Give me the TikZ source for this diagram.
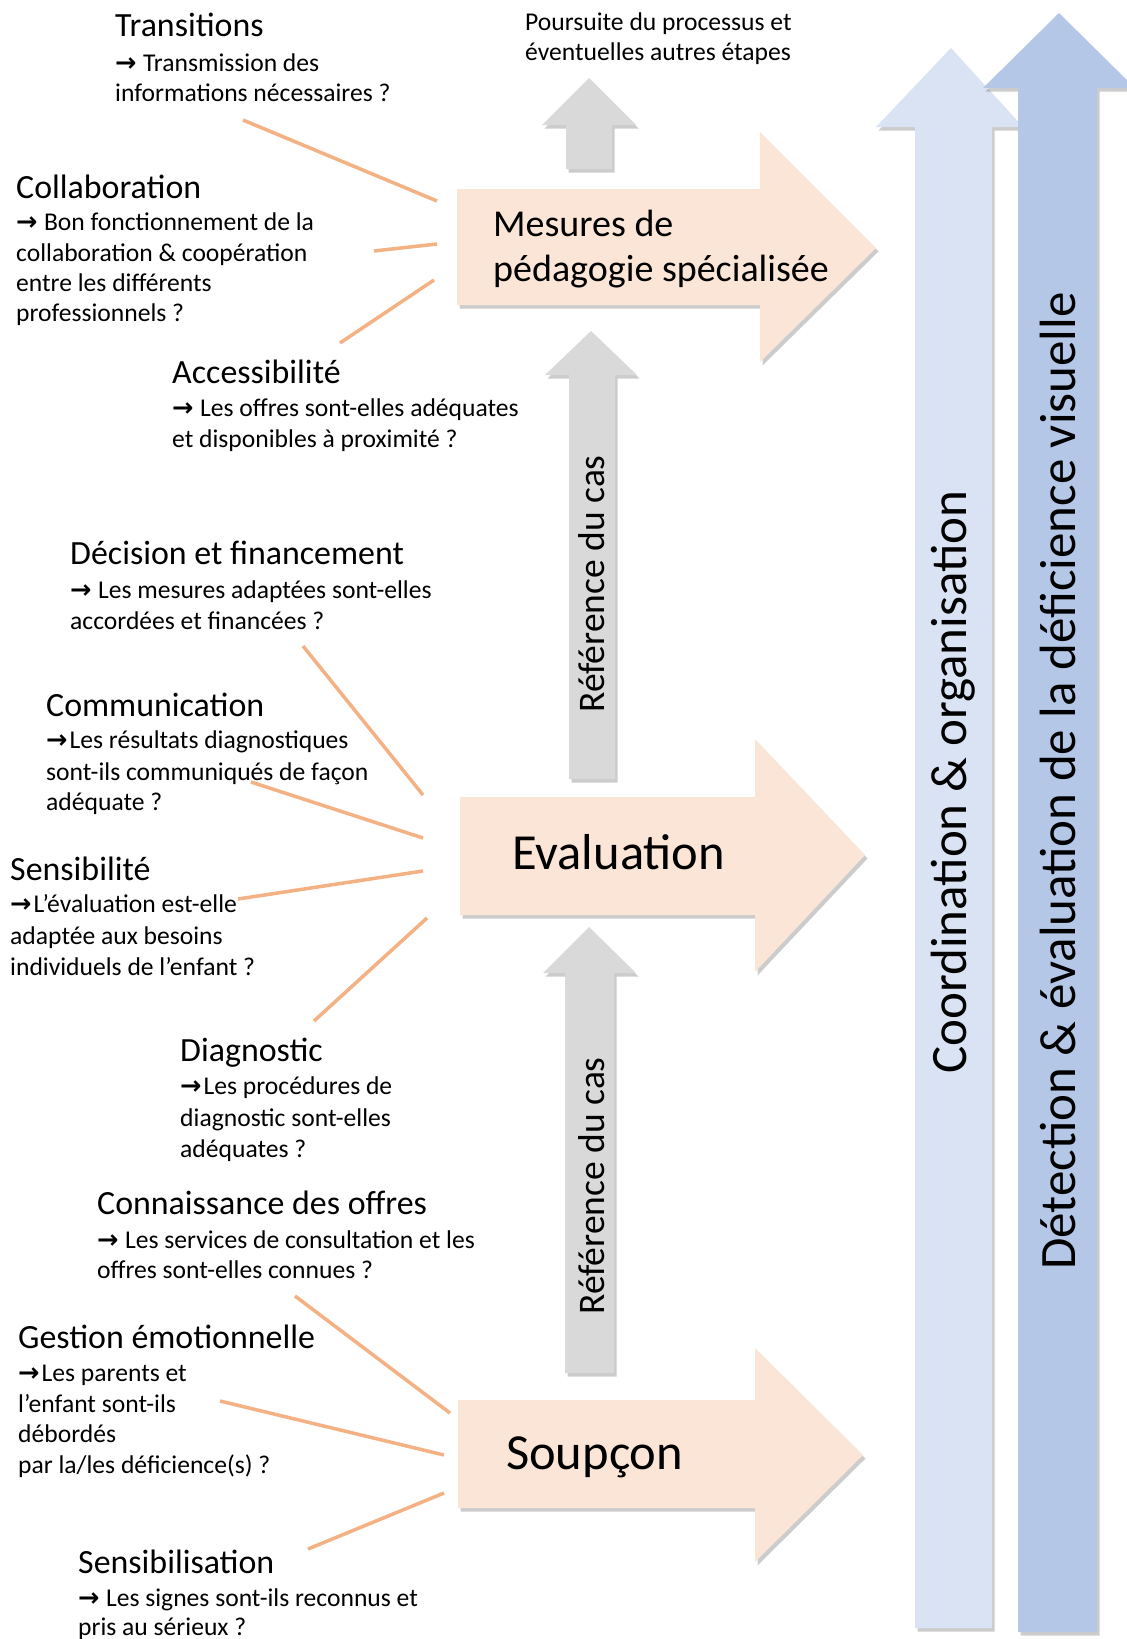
\documentclass[tikz,border=0pt]{standalone}
\usepackage{fontspec}
\setmainfont{Carlito}
\newfontfamily\arrowfont{DejaVu Sans}
\usetikzlibrary{shadows}
\definecolor{pinkf}{HTML}{FBE5D6}
\definecolor{grayf}{HTML}{D9D9D9}
\definecolor{lblue}{HTML}{DAE3F3}
\definecolor{dblue}{HTML}{B4C7E7}
\definecolor{orangel}{HTML}{F4B183}
\newcommand\rarr{{\arrowfont\bfseries\char"2192}\hspace{0.25em}}
\newcommand\rarrt{{\arrowfont\bfseries\char"2192}\hspace{0.08em}}
\tikzset{
  ttl/.style={anchor=base west, inner sep=0pt, font=\fontsize{33.9}{40}\selectfont},
  sub/.style={anchor=base west, inner sep=0pt, font=\fontsize{25.6}{30}\selectfont},
  bigtxt/.style={anchor=base west, inner sep=0pt, font=\fontsize{50.5}{60}\selectfont},
  midtxt/.style={anchor=base west, inner sep=0pt, font=\fontsize{38}{45}\selectfont},
  rottxt/.style={inner sep=0pt, rotate=90, font=\fontsize{51}{60}\selectfont},
  reftxt/.style={inner sep=0pt, rotate=90, font=\fontsize{37.5}{44}\selectfont},
  shad/.style={drop shadow={shadow xshift=2.5pt, shadow yshift=-3.5pt, fill=black, opacity=0.2}},
  pinkarrow/.style={fill=pinkf, shad},
  grayarrow/.style={fill=grayf, shad},
  link/.style={draw=orangel, line width=3.5pt},
}
\begin{document}
\begin{tikzpicture}[x=1pt,y=-1pt]
\useasboundingbox (0,0) rectangle (1127,1639);
\clip (0,0) rectangle (1127,1639);
\fill[white] (0,0) rectangle (1127,1639);

% vertical blue arrows
\path[fill=lblue, shad] (915,1628) -- (915,127) -- (876,127) -- (951,48) -- (1023,127) -- (992,127) -- (992,1628) -- cycle;
\path[fill=dblue, shad] (1018,1632) -- (1018,88) -- (983,88) -- (1059,13) -- (1135,88) -- (1097,88) -- (1097,1632) -- cycle;
\node[rottxt] (coord) at (953,782) {Coordination \& organisation};
\node[rottxt] (detect) at (1058,781) {Détection \& évaluation de la déficience visuelle};

% gray up arrows
\path[grayarrow] (566,169) -- (566,125) -- (542,125) -- (589,78) -- (636,125) -- (612,125) -- (612,169) -- cycle;
\path[grayarrow] (569,779) -- (569,375) -- (545,375) -- (591,331) -- (637,375) -- (615,375) -- (615,779) -- cycle;
\path[grayarrow] (565,1373) -- (565,973) -- (543,973) -- (589,927) -- (636,973) -- (614,973) -- (614,1373) -- cycle;
\node[reftxt] (ref1) at (592,584) {Référence du cas};
\node[reftxt] (ref2) at (592,1186) {Référence du cas};

% pink right arrows
\path[pinkarrow] (457,189) -- (760,189) -- (760,132) -- (876,248) -- (760,362) -- (760,305) -- (457,305) -- cycle;
\path[pinkarrow] (460,797) -- (755,797) -- (755,739) -- (865,855) -- (755,972) -- (755,915) -- (460,915) -- cycle;
\path[pinkarrow] (458,1400) -- (755,1400) -- (755,1348) -- (863,1455) -- (755,1562) -- (755,1508) -- (458,1508) -- cycle;
\node[midtxt] (mes1) at (493,236) {Mesures de};
\node[midtxt] (mes2) at (493,281) {pédagogie spécialisée};
\node[bigtxt] (eval) at (512,869) {Evaluation};
\node[bigtxt] (soup) at (506,1469) {Soupçon};

% top text
\node[sub] (pour1) at (525,30) {Poursuite du processus et};
\node[sub] (pour2) at (525,60) {éventuelles autres étapes};

% Mesures blocks
\node[ttl] (tra) at (115,36) {Transitions};
\node[sub] (tra1) at (115,71) {\rarr Transmission des};
\node[sub] (tra2) at (115,101) {informations nécessaires ?};

\node[ttl] (col) at (16,198) {Collaboration};
\node[sub] (col1) at (16,230) {\rarr Bon fonctionnement de la};
\node[sub] (col2) at (16,261) {collaboration \& coopération};
\node[sub] (col3) at (16,291) {entre les différents};
\node[sub] (col4) at (16,321) {professionnels ?};

\node[ttl] (acc) at (172,383) {Accessibilité};
\node[sub] (acc1) at (172,416) {\rarr Les offres sont-elles adéquates};
\node[sub] (acc2) at (172,447) {et disponibles à proximité ?};

% Evaluation blocks
\node[ttl] (dec) at (70,564) {Décision et financement};
\node[sub] (dec1) at (70,598) {\rarr Les mesures adaptées sont-elles};
\node[sub] (dec2) at (70,629) {accordées et financées ?};

\node[ttl] (com) at (46,716) {Communication};
\node[sub] (com1) at (46,748) {\rarrt Les résultats diagnostiques};
\node[sub] (com2) at (46,780) {sont-ils communiqués de façon};
\node[sub] (com3) at (46,810) {adéquate ?};

\node[ttl] (sen) at (10,880) {Sensibilité};
\node[sub] (sen1) at (10,912) {\rarrt L’évaluation est-elle};
\node[sub] (sen2) at (10,944) {adaptée aux besoins};
\node[sub] (sen3) at (10,975) {individuels de l’enfant ?};

\node[ttl] (dia) at (180,1061) {Diagnostic};
\node[sub] (dia1) at (180,1094) {\rarrt Les procédures de};
\node[sub] (dia2) at (180,1126) {diagnostic sont-elles};
\node[sub] (dia3) at (180,1157) {adéquates ?};

% Soupçon blocks
\node[ttl] (con) at (97,1214) {Connaissance des offres};
\node[sub] (con1) at (97,1248) {\rarr Les services de consultation et les};
\node[sub] (con2) at (97,1278) {offres sont-elles connues ?};

\node[ttl] (ges) at (18,1348) {Gestion émotionnelle};
\node[sub] (ges1) at (18,1381) {\rarrt Les parents et};
\node[sub] (ges2) at (18,1412) {l’enfant sont-ils};
\node[sub] (ges3) at (18,1442) {débordés};
\node[sub] (ges4) at (18,1473) {par la/les déficience(s) ?};

\node[ttl] (sbl) at (78,1573) {Sensibilisation};
\node[sub] (sbl1) at (78,1606) {\rarr Les signes sont-ils reconnus et};
\node[sub] (sbl2) at (78,1635) {pris au sérieux ?};

% connector end points
\coordinate (traA) at (243,120); \coordinate (traB) at (437,201);
\coordinate (colA) at (374,251); \coordinate (colB) at (437,244);
\coordinate (accA) at (340,343); \coordinate (accB) at (434,280);
\coordinate (decA) at (303,646); \coordinate (decB) at (423,795);
\coordinate (comA) at (251,782); \coordinate (comB) at (423,838);
\coordinate (senA) at (238,899); \coordinate (senB) at (423,871);
\coordinate (diaA) at (314,1021); \coordinate (diaB) at (427,918);
\coordinate (conA) at (295,1296); \coordinate (conB) at (450,1413);
\coordinate (gesA) at (220,1401); \coordinate (gesB) at (444,1455);
\coordinate (sblA) at (308,1549); \coordinate (sblB) at (444,1493);
\foreach \n in {tra,col,acc,dec,com,sen,dia,con,ges,sbl}
  \draw[link] (\n A) -- (\n B);
\end{tikzpicture}
\end{document}
